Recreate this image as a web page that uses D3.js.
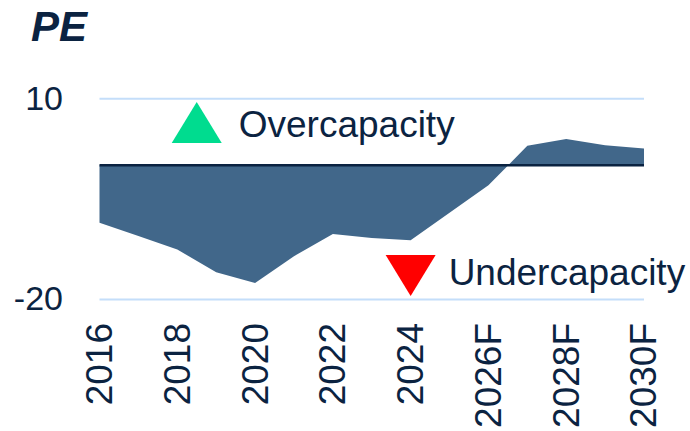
<!DOCTYPE html>
<html>
<head>
<meta charset="utf-8">
<script src="https://cdn.jsdelivr.net/npm/d3@7"></script>
<style>
  body { margin: 0; background: #fff; }
  svg { display: block; font-family: "Liberation Sans", Arial, sans-serif; }
</style>
</head>
<body>
<div id="chart"></div>
<script>
const years = [2016, 2017, 2018, 2019, 2020, 2021, 2022, 2023, 2024, 2025, 2026, 2027, 2028, 2029, 2030];
const peValues = [-8.6, -10.6, -12.6, -16.0, -17.6, -13.6, -10.3, -10.9, -11.2, -7.1, -3.0, 2.9, 3.9, 3.0, 2.5];
const tickYears = [2016, 2018, 2020, 2022, 2024, 2026, 2028, 2030];
const tickLabels = ['2016', '2018', '2020', '2022', '2024', '2026F', '2028F', '2030F'];
const yTicks = [-20, 10];
const markerNames = ['Overcapacity', 'Undercapacity'];
const markerYears = [2018.5, 2024];
const markerValues = [6.4, -16.5];

const [svgWidth, svgHeight] = [690, 431];
const navy = '#0b2341';

const svg = d3.select('#chart').append('svg')
    .attr('width', svgWidth)
    .attr('height', svgHeight);

const x = d3.scaleLinear().domain([2016, 2030]).range([99.5, 644]);
const y = d3.scaleLinear().domain([-20, 10]).range([299, 98.3]);

const data = years.map((d, i) => ({ year: d, value: peValues[i] }));

// gridlines + y labels (plain hyphen, like the original)
const yAxis = svg.append('g')
    .attr('transform', 'translate(' + x.range()[0] + ',0)')
    .call(d3.axisLeft(y).tickValues(yTicks).tickSize(-(x.range()[1] - x.range()[0])).tickPadding(36.5).tickFormat(d => String(d)));
yAxis.select('.domain').remove();
yAxis.selectAll('line').attr('stroke', '#c4defa').attr('stroke-width', 2);
yAxis.selectAll('text').attr('fill', navy).attr('font-size', 34).attr('font-family', '"Liberation Sans", Arial, sans-serif');

// area between zero and the series
const area = d3.area()
    .x(d => x(d.year))
    .y0(y(0))
    .y1(d => y(d.value));

svg.append('path')
    .datum(data)
    .attr('fill', '#41678a')
    .attr('d', area);

// zero line
svg.append('line')
    .attr('x1', x.range()[0]).attr('x2', x.range()[1])
    .attr('y1', y(0)).attr('y2', y(0))
    .attr('stroke', navy)
    .attr('stroke-width', 2.5);

// x axis labels
const xAxis = svg.append('g')
    .attr('transform', 'translate(0,' + y(-20) + ')')
    .call(d3.axisBottom(x).tickValues(tickYears).tickSize(0).tickFormat((d, i) => tickLabels[i]));
xAxis.select('.domain').remove();
xAxis.selectAll('text')
    .attr('fill', navy)
    .attr('font-size', 37)
    .attr('font-family', '"Liberation Sans", Arial, sans-serif')
    .attr('text-anchor', 'end')
    .attr('dy', '0.35em')
    .attr('y', 0)
    .attr('transform', 'translate(-1,24) rotate(-90)');

// title
svg.append('text')
    .attr('x', 31)
    .attr('y', 41)
    .attr('fill', navy)
    .attr('font-size', 42)
    .attr('font-weight', 'bold')
    .attr('font-style', 'italic')
    .text('PE');

// overcapacity / undercapacity markers
const triW = 50, triH = 41;
markerNames.forEach((name, i) => {
    const cx = x(markerYears[i]);
    const cy = y(markerValues[i]);
    const up = i === 0;
    const pts = up
        ? [[cx - triW / 2, cy + triH / 2], [cx + triW / 2, cy + triH / 2], [cx, cy - triH / 2]]
        : [[cx - triW / 2, cy - triH / 2], [cx + triW / 2, cy - triH / 2], [cx, cy + triH / 2]];
    svg.append('path')
        .attr('d', d3.line()(pts) + 'Z')
        .attr('fill', up ? '#00dc8f' : '#ff0000');
    svg.append('text')
        .attr('x', cx + (up ? 42 : 38))
        .attr('y', cy + (up ? 14.5 : 9.5))
        .attr('fill', navy)
        .attr('font-size', 37)
        .text(name);
});
</script>
</body>
</html>
